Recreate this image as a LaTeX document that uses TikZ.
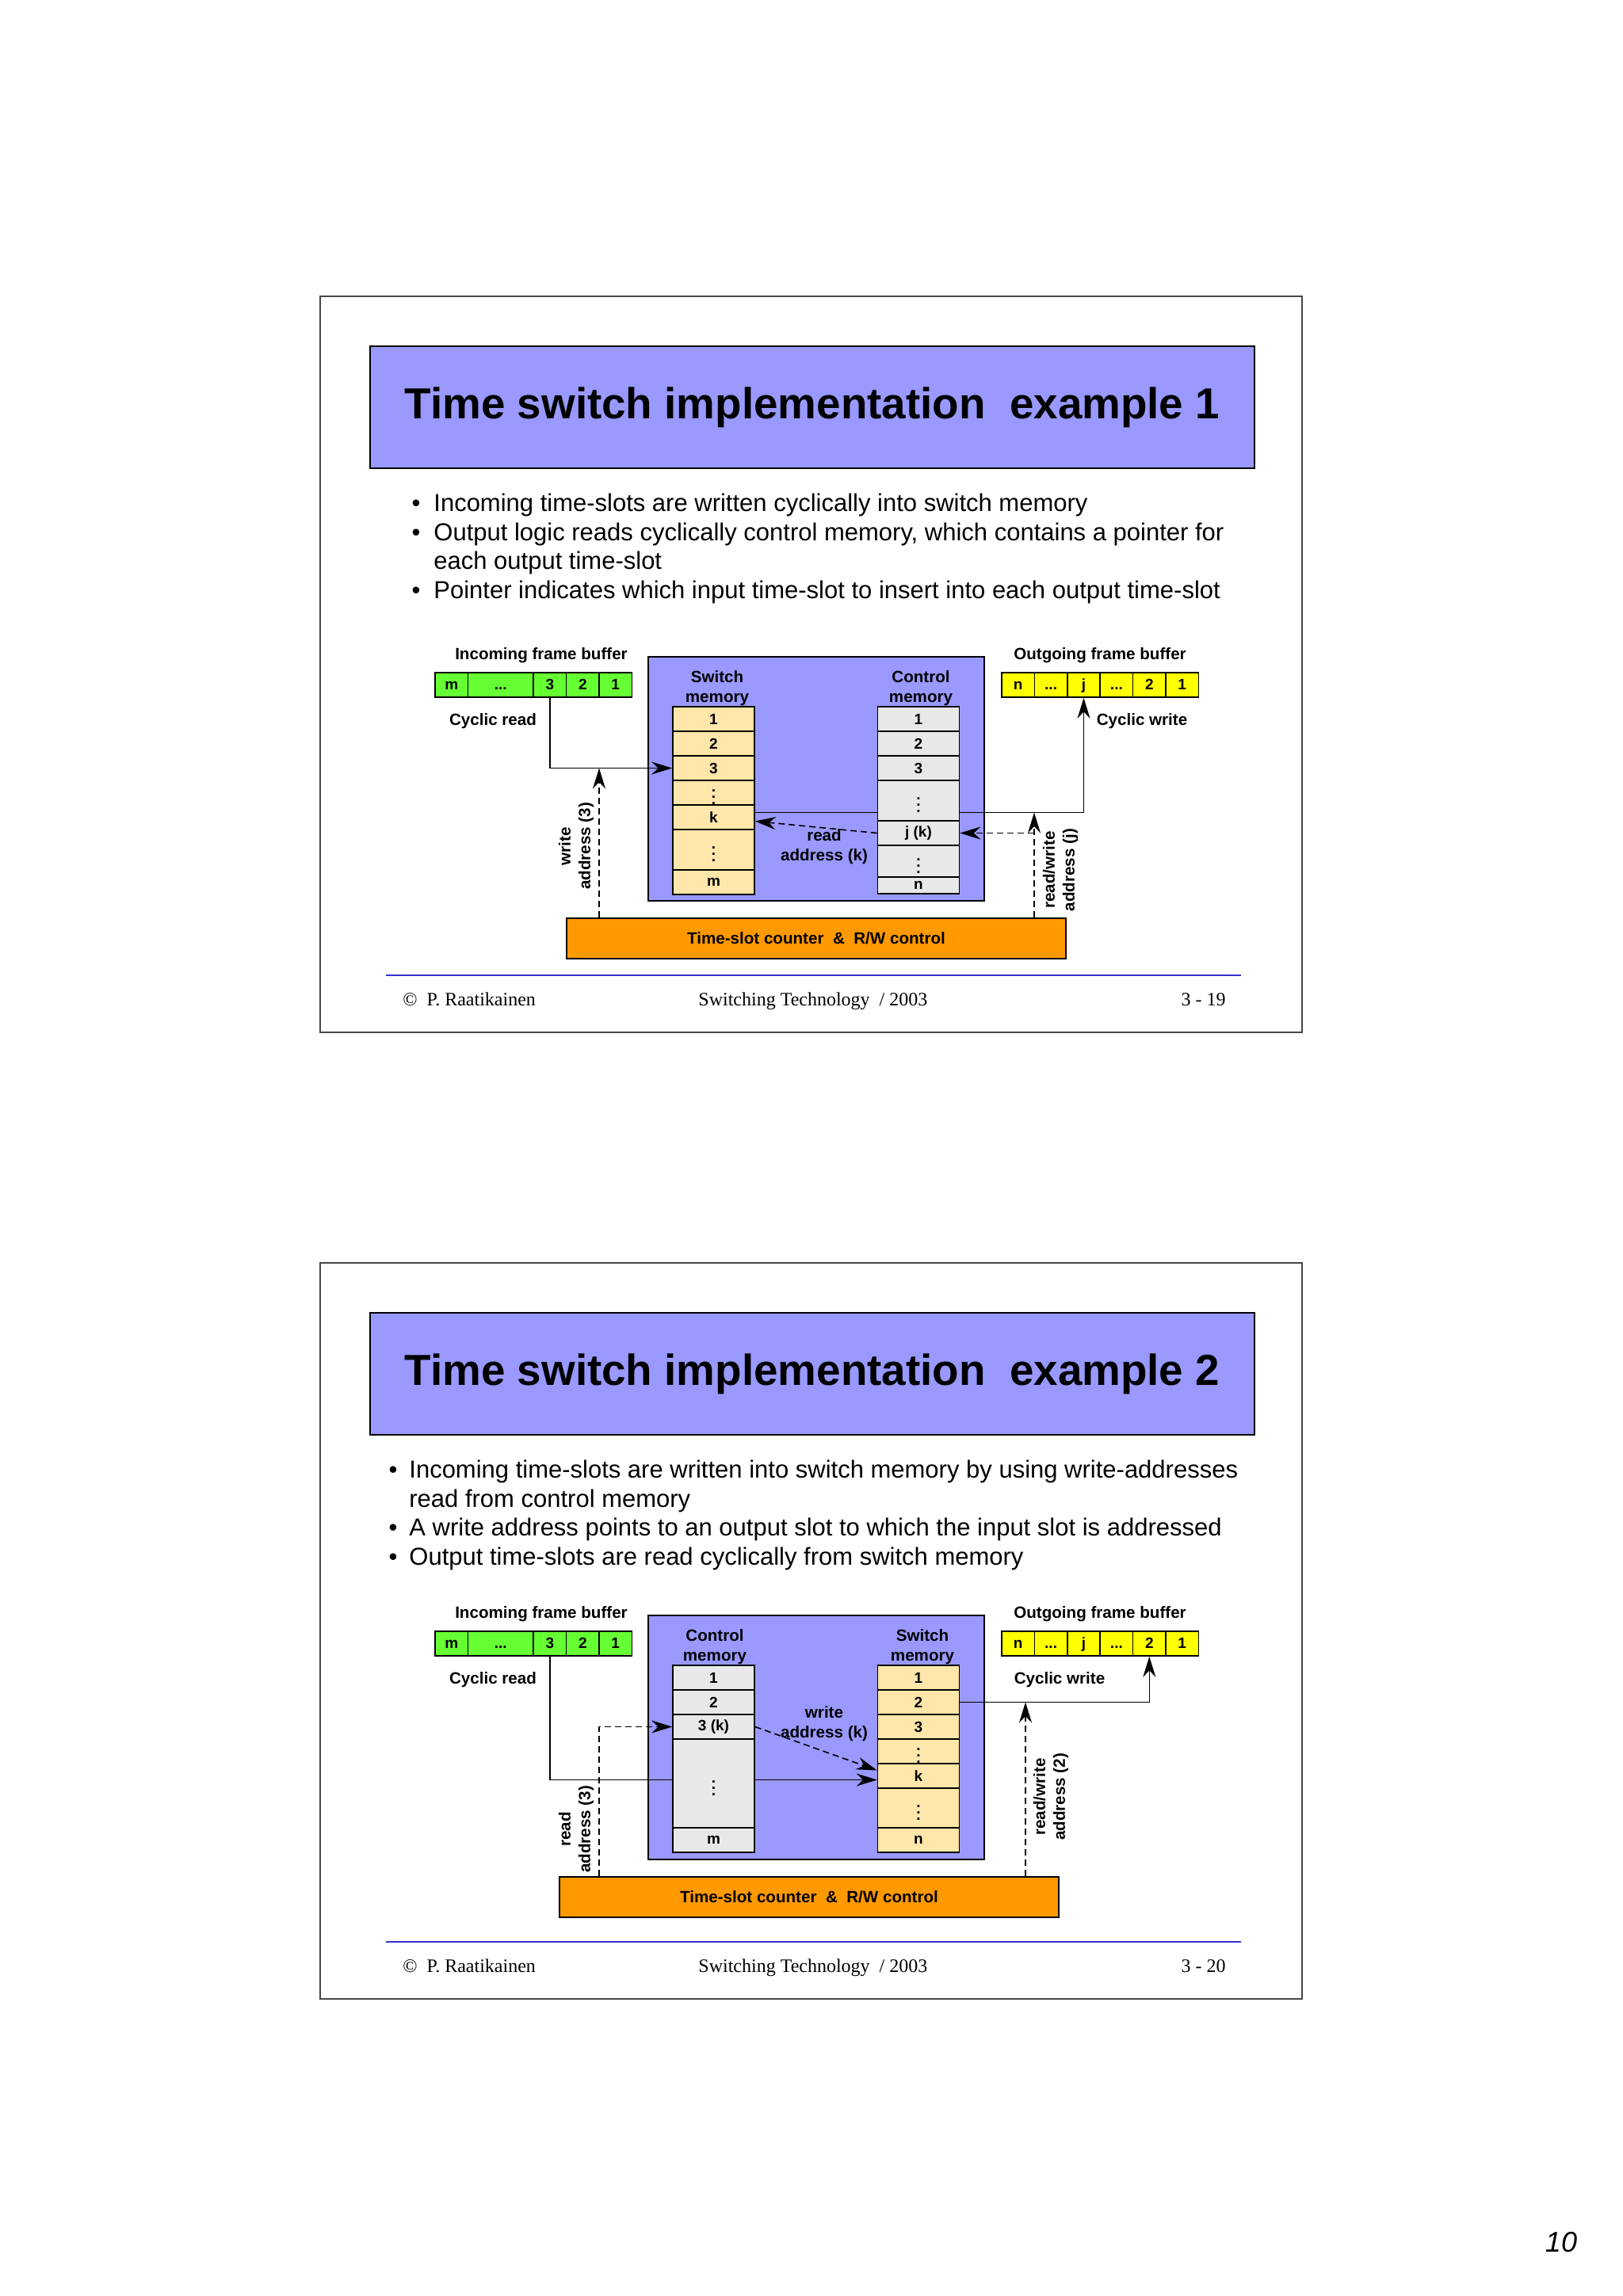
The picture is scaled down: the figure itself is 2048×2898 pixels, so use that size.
\documentclass[tikz,border=0pt]{standalone}
\usepackage{fontspec}
\setmainfont{Liberation Sans}
\newfontfamily\footfont{Liberation Serif}
\usetikzlibrary{arrows.meta}
\definecolor{slideblue}{RGB}{153,153,255}
\definecolor{inbufgreen}{RGB}{102,255,51}
\definecolor{outbufyellow}{RGB}{255,255,0}
\definecolor{ctrorange}{RGB}{255,153,0}
\definecolor{swcream}{RGB}{255,230,170}
\definecolor{ctlgray}{RGB}{232,232,232}
\definecolor{rulerblue}{RGB}{51,51,204}
\tikzset{
    slideframe/.style={draw=black!72, line width=1pt},
    titlebox/.style={draw=black, line width=1pt, fill=slideblue, minimum width=558pt, minimum height=77pt, inner sep=0pt, font=\fontsize{27.4}{33}\selectfont\bfseries},
    bullettext/.style={anchor=base west, inner sep=0pt, font=\fontsize{15.5}{18.5}\selectfont},
    bulletdot/.style={anchor=base, inner sep=0pt, font=\fontsize{15.5}{18.5}\selectfont},
    foottext/.style={inner sep=0pt, font=\fontsize{12}{14}\footfont},
    lbl/.style={inner sep=0pt, align=center, font=\fontsize{10.3}{12.5}\selectfont\bfseries},
    memblock/.style={draw=black, line width=1pt, fill=slideblue},
    bufcell/.style={draw=black, line width=0.8pt, minimum width=#1, minimum height=15.5pt, inner sep=0pt, text height=7pt, text depth=1.5pt, font=\fontsize{9.5}{11}\selectfont\bfseries},
    bufcell/.default=20.7pt,
    incell/.style={bufcell=#1, fill=inbufgreen},
    incell/.default=20.7pt,
    outcell/.style={bufcell=#1, fill=outbufyellow},
    outcell/.default=20.7pt,
    swcell/.style={draw=black, line width=0.8pt, fill=swcream, minimum width=51.5pt, minimum height=#1, inner sep=0pt, font=\fontsize{9.5}{11}\selectfont\bfseries},
    swcell/.default=15.5pt,
    ctcell/.style={swcell=#1, fill=ctlgray},
    ctcell/.default=15.5pt,
    ctrbox/.style={draw=black, line width=1pt, fill=ctrorange, minimum width=315pt, minimum height=25.5pt, inner sep=0pt, font=\fontsize{10.3}{12.5}\selectfont\bfseries},
    datapath/.style={line width=0.8pt, -{Stealth[length=13pt,width=8pt]}},
    addrpath/.style={datapath, dash pattern=on 4pt off 2.5pt}
}
\begin{document}
\begin{tikzpicture}[x=0.5pt, y=-0.5pt]
                \fill[white] (0,0) rectangle (2048,2898);
                \useasboundingbox (0,0) rectangle (2048,2898);
                \draw[slideframe] (404,374) rectangle (1643,1303);
                \node[titlebox] (titA) at (1025,514) {Time switch implementation~ example 1};
                \node[bulletdot] (bA1) at (525,645) {•};
                \node[bullettext] (tA1) at (547,645) {Incoming time-slots are written cyclically into switch memory};
                \node[bulletdot] (bA2) at (525,682) {•};
                \node[bullettext] (tA2) at (547,682) {Output logic reads cyclically control memory, which contains a pointer for};
                \node[bullettext] (tA3) at (547,718) {each output time-slot};
                \node[bulletdot] (bA3) at (525,755) {•};
                \node[bullettext] (tA4) at (547,755) {Pointer indicates which input time-slot to insert into each output time-slot};
                \draw[rulerblue, line width=1pt] (487,1231) -- (1566,1231);
                \node[foottext, anchor=base west] (fA1) at (508,1269) {©~ P. Raatikainen};
                \node[foottext, anchor=base west] (fA2) at (881,1269) {Switching Technology~ / 2003};
                \node[foottext, anchor=base east] (fA3) at (1547,1269) {3 - 19};
                \node[lbl] (inlabA) at (683,827) {Incoming frame buffer};
                \node[incell] (inAm) at (569.7,864.5) {m};
                \node[incell=41.4pt] (inAd) at (631.8,864.5) {...};
                \node[incell] (inA3) at (693.9,864.5) {3};
                \node[incell] (inA2) at (735.3,864.5) {2};
                \node[incell] (inA1) at (776.7,864.5) {1};
                \node[lbl] (crA) at (622,910) {Cyclic read};
                \node[lbl] (outlabA) at (1388,827) {Outgoing frame buffer};
                \node[outcell] (outAn) at (1284.7,864.5) {n};
                \node[outcell] (outAd1) at (1326.1,864.5) {...};
                \node[outcell] (outAj) at (1367.5,864.5) {j};
                \node[outcell] (outAd2) at (1408.9,864.5) {...};
                \node[outcell] (outA2) at (1450.3,864.5) {2};
                \node[outcell] (outA1) at (1491.7,864.5) {1};
                \node[lbl] (cwA) at (1441,910) {Cyclic write};
                \draw[memblock] (818,829) rectangle (1242,1137);
                \node[lbl] (swlabA) at (905,869) {Switch\\memory};
                \node[lbl] (ctlabA) at (1162,869) {Control\\memory};
                \node[swcell] (swA1) at (900.5,907.5) {1};
                \node[swcell] (swA2) at (900.5,938.5) {2};
                \node[swcell] (swA3) at (900.5,969.5) {3};
                \node[swcell] (swAv1) at (900.5,1000.5) {$\vdots$};
                \node[swcell] (swAk) at (900.5,1031.5) {k};
                \node[swcell=25.5pt] (swAv2) at (900.5,1072.5) {$\vdots$};
                \node[swcell] (swAm) at (900.5,1113.5) {m};
                \draw[datapath] ([yshift=3pt]swAk.east) -| (outAj.south);
                \node[ctcell] (ctA1) at (1159,907.5) {1};
                \node[ctcell] (ctA2) at (1159,938.5) {2};
                \node[ctcell] (ctA3) at (1159,969.5) {3};
                \node[ctcell=25.5pt] (ctAv1) at (1159,1010.5) {$\vdots$};
                \node[ctcell] (ctAj) at (1159,1051.5) {j (k)};
                \node[ctcell=20pt] (ctAv2) at (1159,1087) {$\vdots$};
                \node[ctcell=10.5pt] (ctAn) at (1159,1117.5) {n};
                \draw[datapath] (inA3.south) |- (swA3.west);
                \node[ctrbox] (ctrA) at (1030,1184.5) {Time-slot counter~ \&~ R/W control};
                \coordinate (waA) at (756,969.5);
                \draw[addrpath] (waA |- ctrA.north) -- (waA);
                \coordinate (rwA) at (1305,1025.5);
                \draw[addrpath] (rwA |- ctrA.north) -- (rwA);
                \draw[addrpath] (rwA |- ctAj.east) -- (ctAj.east);
                \draw[addrpath] (ctAj.west) -- ([yshift=-2.5pt]swAk.east);
                \node[lbl] (raLabA) at (1040,1069) {read\\address (k)};
                \node[lbl, rotate=90] (waLabA) at (727,1068) {write\\address (3)};
                \node[lbl, rotate=90] (rwLabA) at (1338,1098) {read/write\\address (j)};
                \draw[slideframe] (404,1594) rectangle (1643,2523);
                \node[titlebox] (titB) at (1025,1734) {Time switch implementation~ example 2};
                \node[bulletdot] (bB1) at (496,1865) {•};
                \node[bullettext] (tB1) at (516,1865) {Incoming time-slots are written into switch memory by using write-addresses};
                \node[bullettext] (tB2) at (516,1902) {read from control memory};
                \node[bulletdot] (bB2) at (496,1938) {•};
                \node[bullettext] (tB3) at (516,1938) {A write address points to an output slot to which the input slot is addressed};
                \node[bulletdot] (bB3) at (496,1975) {•};
                \node[bullettext] (tB4) at (516,1975) {Output time-slots are read cyclically from switch memory};
                \draw[rulerblue, line width=1pt] (487,2451) -- (1566,2451);
                \node[foottext, anchor=base west] (fB1) at (508,2489) {©~ P. Raatikainen};
                \node[foottext, anchor=base west] (fB2) at (881,2489) {Switching Technology~ / 2003};
                \node[foottext, anchor=base east] (fB3) at (1547,2489) {3 - 20};
                \node[lbl] (inlabB) at (683,2037) {Incoming frame buffer};
                \node[incell] (inBm) at (569.7,2074.5) {m};
                \node[incell=41.4pt] (inBd) at (631.8,2074.5) {...};
                \node[incell] (inB3) at (693.9,2074.5) {3};
                \node[incell] (inB2) at (735.3,2074.5) {2};
                \node[incell] (inB1) at (776.7,2074.5) {1};
                \node[lbl] (crB) at (622,2120) {Cyclic read};
                \node[lbl] (outlabB) at (1388,2037) {Outgoing frame buffer};
                \node[outcell] (outBn) at (1284.7,2074.5) {n};
                \node[outcell] (outBd1) at (1326.1,2074.5) {...};
                \node[outcell] (outBj) at (1367.5,2074.5) {j};
                \node[outcell] (outBd2) at (1408.9,2074.5) {...};
                \node[outcell] (outB2) at (1450.3,2074.5) {2};
                \node[outcell] (outB1) at (1491.7,2074.5) {1};
                \node[lbl] (cwB) at (1337,2120) {Cyclic write};
                \draw[memblock] (818,2039) rectangle (1242,2347);
                \node[lbl] (ctlabB) at (902,2079) {Control\\memory};
                \node[lbl] (swlabB) at (1164,2079) {Switch\\memory};
                \node[swcell] (swB1) at (1159,2117.5) {1};
                \node[swcell] (swB2) at (1159,2148.5) {2};
                \node[swcell] (swB3) at (1159,2179.5) {3};
                \node[swcell] (swBv1) at (1159,2210.5) {$\vdots$};
                \node[swcell] (swBk) at (1159,2241.5) {k};
                \node[swcell=25pt] (swBv2) at (1159,2282) {$\vdots$};
                \node[swcell] (swBn) at (1159,2322.5) {n};
                \draw[datapath] (inB3.south) |- ([yshift=-2.5pt]swBk.west);
                \node[ctcell] (ctB1) at (900.5,2117.5) {1};
                \node[ctcell] (ctB2) at (900.5,2148.5) {2};
                \node[ctcell] (ctB3) at (900.5,2179.5) {3 (k)};
                \node[ctcell=56pt] (ctBv) at (900.5,2251) {$\vdots$};
                \node[ctcell] (ctBm) at (900.5,2322.5) {m};
                \draw[datapath] (swB2.east) -| (outB2.south);
                \node[ctrbox] (ctrB) at (1021,2394) {Time-slot counter~ \&~ R/W control};
                \coordinate (raB) at (756,2179.5);
                \draw[addrpath] (raB |- ctrB.north) |- (ctB3.west);
                \coordinate (rwB) at (1294,2148.5);
                \draw[addrpath] (rwB |- ctrB.north) -- (rwB);
                \draw[addrpath] (ctB3.east) -- ([yshift=3.5pt]swBk.west);
                \node[lbl] (waLabB) at (1040,2176) {write\\address (k)};
                \node[lbl, rotate=90] (raLabB) at (727,2309) {read\\address (3)};
                \node[lbl, rotate=90] (rwLabB) at (1326,2268) {read/write\\address (2)};
                \node[inner sep=0pt, font=\fontsize{18}{20}\selectfont\itshape] (pageno) at (1970,2830) {10};
\end{tikzpicture}
\end{document}
